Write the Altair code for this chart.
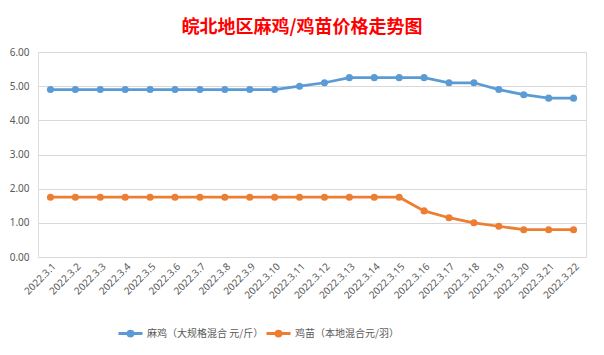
import altair as alt
import pandas as pd

dates = ["2022.3.1", "2022.3.2", "2022.3.3", "2022.3.4", "2022.3.5", "2022.3.6",
         "2022.3.7", "2022.3.8", "2022.3.9", "2022.3.10", "2022.3.11", "2022.3.12",
         "2022.3.13", "2022.3.14", "2022.3.15", "2022.3.16", "2022.3.17", "2022.3.18",
         "2022.3.19", "2022.3.20", "2022.3.21", "2022.3.22"]
series_names = ["麻鸡（大规格混合 元/斤）", "鸡苗（本地混合元/羽）"]
maji = [4.9, 4.9, 4.9, 4.9, 4.9, 4.9, 4.9, 4.9, 4.9, 4.9, 5.0, 5.1,
        5.25, 5.25, 5.25, 5.25, 5.1, 5.1, 4.9, 4.75, 4.65, 4.65]
jimiao = [1.75, 1.75, 1.75, 1.75, 1.75, 1.75, 1.75, 1.75, 1.75, 1.75, 1.75, 1.75,
          1.75, 1.75, 1.75, 1.35, 1.15, 1.0, 0.9, 0.8, 0.8, 0.8]
colors = ["#5B9BD5", "#ED7D31"]

rows = []
for d, v in zip(dates, maji):
    rows.append({"date": d, "series": series_names[0], "value": v})
for d, v in zip(dates, jimiao):
    rows.append({"date": d, "series": series_names[1], "value": v})
df = pd.DataFrame(rows)

legend_symbol = "M-1,0L1,0M0.2,0A0.2,0.2,0,1,1,-0.2,0A0.2,0.2,0,1,1,0.2,0Z"

x = alt.X("date:N", sort=dates, title=None,
          scale=alt.Scale(paddingInner=0, paddingOuter=0.5, align=0.5),
          axis=alt.Axis(labelAngle=-45, labelFontSize=10, labelColor="#595959",
                        labelFont="Noto Sans", ticks=False, domain=False,
                        labelPadding=4, grid=False))
y = alt.Y("value:Q", title=None,
          scale=alt.Scale(domain=[0, 6], nice=False),
          axis=alt.Axis(values=[0, 1, 2, 3, 4, 5, 6], format=".2f", labelFontSize=10,
                        labelColor="#595959", labelFont="Noto Sans", ticks=False,
                        domain=False, labelPadding=9, gridColor="#D9D9D9",
                        gridWidth=1))
color = alt.Color("series:N", sort=series_names,
                  scale=alt.Scale(domain=series_names, range=colors),
                  legend=alt.Legend(title=None, orient="none", direction="horizontal",
                                    legendX=79, legendY=268,
                                    symbolType=legend_symbol, symbolSize=576,
                                    symbolStrokeWidth=3,
                                    labelFontSize=10, labelColor="#595959",
                                    labelFont="Noto Sans CJK SC",
                                    labelOffset=3, columnPadding=-4,
                                    labelLimit=300))

base = alt.Chart(df)
lines = base.mark_line(strokeWidth=2.75).encode(x=x, y=y, color=color)
points = base.mark_circle(size=50, opacity=1).encode(x=x, y=y, color=color)

chart = alt.layer(lines, points).properties(
    width=548, height=205,
    autosize=alt.AutoSizeParams(type="none"),
    padding={"left": 30, "top": 44, "right": 2, "bottom": 88},
    title=alt.TitleParams("皖北地区麻鸡/鸡苗价格走势图", color="#FF0000",
                          font="Noto Sans CJK SC", fontSize=18, fontWeight="bold",
                          anchor="middle", dx=-10, offset=10),
).configure_view(stroke=None).configure(background="white")

chart.save("out.html", embed_options={"renderer": "svg", "actions": False})
